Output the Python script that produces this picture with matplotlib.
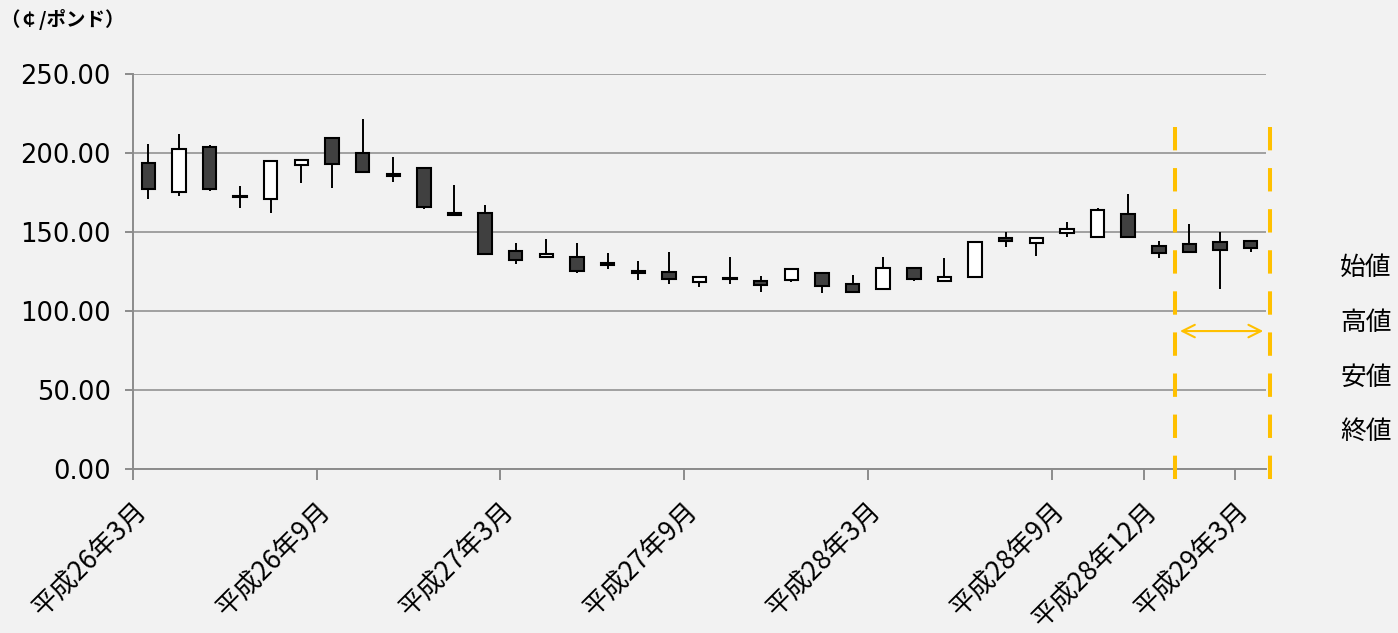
import matplotlib
matplotlib.use("Agg")
import matplotlib.pyplot as plt
import matplotlib.transforms as mtransforms

plt.rcParams['font.family'] = ['Noto Sans CJK JP', 'DejaVu Sans']

# 月次の四本値（￠/ポンド）
open_ = [193.5, 175.1, 204.0, 172.8, 170.7, 192.2, 209.3, 200.2, 186.8, 190.3,
         161.8, 162.3, 138.0, 134.4, 134.2, 130.4, 125.2, 124.9, 118.5, 120.6,
         119.0, 119.6, 123.8, 117.1, 113.9, 127.0, 119.2, 121.5, 146.2, 142.8,
         149.4, 147.0, 161.2, 141.3, 142.4, 143.5, 144.5]
high = [205.7, 212.0, 205.0, 179.3, 194.7, 195.6, 209.3, 221.5, 197.5, 190.3,
        179.7, 167.1, 142.8, 145.6, 142.8, 136.7, 131.6, 137.2, 121.3, 134.0,
        122.2, 126.4, 123.8, 122.8, 134.0, 127.0, 133.3, 143.9, 149.8, 146.0,
        156.1, 165.0, 174.0, 144.1, 155.1, 149.8, 144.5]
low = [171.0, 172.6, 176.0, 165.4, 161.8, 180.8, 178.0, 187.8, 181.6, 164.6,
       160.1, 136.1, 129.6, 134.4, 123.8, 126.6, 119.6, 116.9, 115.0, 117.1,
       111.8, 118.2, 111.2, 112.0, 113.9, 119.0, 119.2, 121.5, 140.3, 134.8,
       146.6, 146.0, 147.0, 133.3, 137.1, 113.9, 137.1]
close = [177.4, 202.7, 177.0, 172.0, 194.7, 195.6, 193.2, 187.8, 185.4, 166.0,
         160.8, 136.1, 132.3, 136.3, 125.5, 129.4, 124.2, 120.0, 121.3, 120.0,
         116.3, 126.4, 115.8, 112.0, 127.0, 120.3, 121.3, 143.9, 144.3, 146.0,
         151.7, 164.1, 147.0, 136.7, 137.5, 138.8, 139.9]

tick_pos = [0, 6, 12, 18, 24, 30, 33, 36]
tick_labels = ['平成26年3月', '平成26年9月', '平成27年3月', '平成27年9月',
               '平成28年3月', '平成28年9月', '平成28年12月', '平成29年3月']
legend_labels = ['始値', '高値', '安値', '終値']

bg = '#f2f2f2'
axis_gray = '#8c8c8c'
orange = '#ffc000'

fig = plt.figure(figsize=(13.98, 6.33), dpi=100, facecolor=bg)
ax = fig.add_axes([0.0951, 0.2591, 0.8105, 0.624], facecolor=bg)

x = [i + 0.5 for i in range(len(open_))]
bottoms = [min(o, c) for o, c in zip(open_, close)]
heights = [max(abs(c - o), 0.6) for o, c in zip(open_, close)]
colors = ['#ffffff' if c > o else '#404040' for o, c in zip(open_, close)]

ax.vlines(x, low, high, color='black', linewidth=1.4, zorder=3)
ax.bar(x, heights, bottom=bottoms, width=0.44, color=colors,
       edgecolor='black', linewidth=1.5, zorder=4)

ax.set_xlim(0, 37)
ax.set_ylim(0, 250)
ax.set_yticks(range(0, 251, 50))
ax.set_yticklabels([f'{v:.2f}' for v in range(0, 251, 50)],
                   fontsize=18.5, family='DejaVu Sans')
ax.yaxis.grid(True, color='#a0a0a0', linewidth=1.4)
ax.set_axisbelow(True)

ax.set_xticks(tick_pos)
ax.set_xticklabels(tick_labels, fontsize=19)
ax.tick_params(axis='x', length=8, width=1.4, color=axis_gray, pad=19)
ax.tick_params(axis='y', length=6, width=1.4, color=axis_gray, pad=10)
offset = mtransforms.ScaledTranslation(0.09, 0, fig.dpi_scale_trans)
for lab in ax.get_xticklabels():
    lab.set_rotation(45)
    lab.set_ha('right')
    lab.set_va('center')
    lab.set_rotation_mode('anchor')
    lab.set_transform(lab.get_transform() + offset)

for side in ['top', 'right']:
    ax.spines[side].set_visible(False)
for side in ['left', 'bottom']:
    ax.spines[side].set_color(axis_gray)
    ax.spines[side].set_linewidth(1.4)

# 直近期間を示す破線と矢印
for xv in [34.03, 37.13]:
    ax.plot([xv, xv], [216.5, -10], color=orange, linewidth=2.9,
            dashes=(5.8, 4.4), clip_on=False, zorder=5)
ax.annotate('', xy=(34.1, 87.3), xytext=(37.0, 87.3),
            arrowprops=dict(arrowstyle='<->,head_length=0.9,head_width=0.45',
                            color=orange, linewidth=1.5))

for lab, yp in zip(legend_labels, [268, 323, 378, 432]):
    fig.text(1366 / 1398, 1 - yp / 633, lab, fontsize=18.5,
             ha='center', va='center')

fig.text(0.0, 1 - 19 / 633, '（￠/ポンド）', fontsize=14, fontweight='bold',
         ha='left', va='center')

fig.savefig('out.png', dpi=100, facecolor=bg)
